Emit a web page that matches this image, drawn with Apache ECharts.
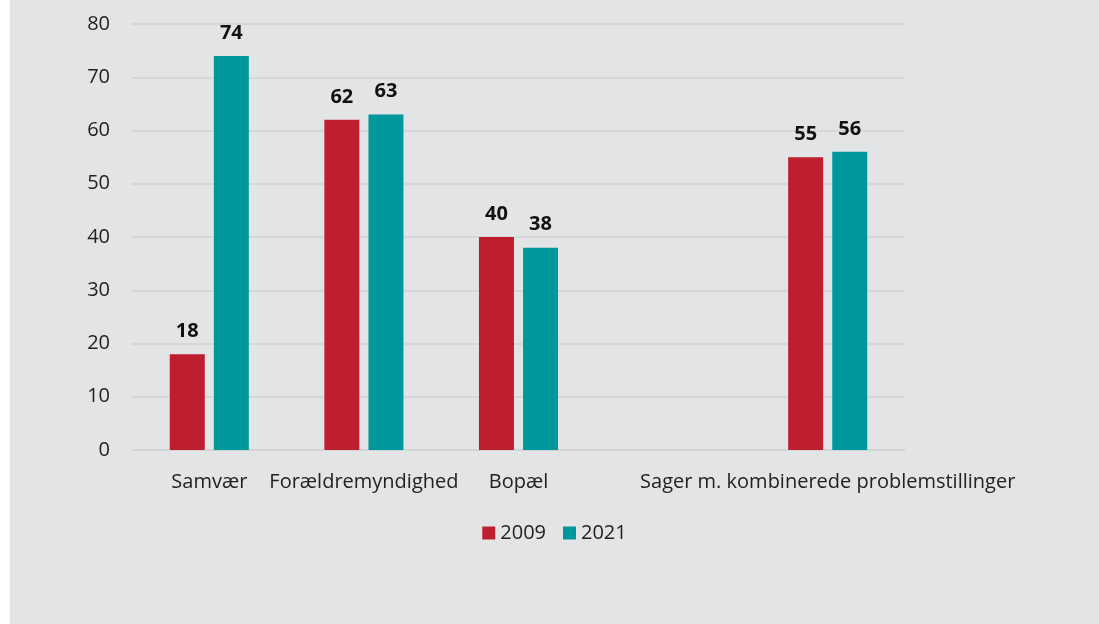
<!DOCTYPE html>
<html>
<head>
<meta charset="utf-8">
<script src="https://cdn.jsdelivr.net/npm/echarts@6/dist/echarts.min.js"></script>
<style>
html,body{margin:0;padding:0;background:#ffffff;width:1099px;height:624px;overflow:hidden;}
#chart{position:absolute;left:10px;top:0;width:1089px;height:624px;background:#e3e4e6;}
</style>
</head>
<body>
<div id="chart"></div>
<script>
const categories = ['Samvær', 'Forældremyndighed', 'Bopæl', '', 'Sager m. kombinerede problemstillinger'];
const seriesNames = ['2009', '2021'];
const values2009 = [18, 62, 40, null, 55];
const values2021 = [74, 63, 38, null, 56];
const yTicks = { min: 0, max: 80, interval: 10 };

const chart = echarts.init(document.getElementById('chart'), null, { renderer: 'canvas' });
const font = '"Open Sans", "Noto Sans", sans-serif';
const labelCfg = {
  show: true, position: 'top', distance: 13,
  fontFamily: font, fontSize: 20, fontWeight: 'bold', color: '#111111'
};
chart.setOption({
  backgroundColor: '#e3e4e6',
  animation: false,
  grid: { left: 122, right: 194, top: 24, bottom: 174, containLabel: false },
  legend: {
    bottom: 76, left: 'center',
    itemWidth: 13, itemHeight: 13, itemGap: 17,
    icon: 'rect',
    textStyle: { fontFamily: font, fontSize: 20, color: '#222222', padding: [0, 0, 0, 0] },
    data: seriesNames
  },
  xAxis: {
    type: 'category',
    data: categories,
    axisLine: { show: true, lineStyle: { color: '#d2d3d5', width: 1.5 } },
    axisTick: { show: false },
    axisLabel: { fontFamily: font, fontSize: 20, color: '#222222', margin: 22, interval: 0 }
  },
  yAxis: {
    type: 'value',
    min: yTicks.min, max: yTicks.max, interval: yTicks.interval,
    axisLine: { show: false },
    axisTick: { show: false },
    splitLine: { lineStyle: { color: '#d2d3d5', width: 1.5 } },
    axisLabel: { fontFamily: font, fontSize: 20, color: '#222222', margin: 22 }
  },
  series: [
    { name: seriesNames[0], type: 'bar', data: values2009, barWidth: 35, barGap: '26%',
      itemStyle: { color: '#be1e2d' }, label: labelCfg },
    { name: seriesNames[1], type: 'bar', data: values2021, barWidth: 35, barGap: '26%',
      itemStyle: { color: '#00979d' }, label: labelCfg }
  ]
});
</script>
</body>
</html>
